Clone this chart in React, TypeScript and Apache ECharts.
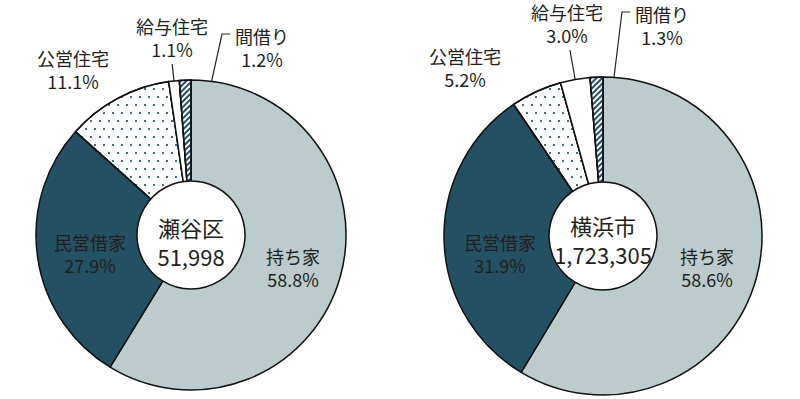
import React, { useEffect, useRef } from "react";
import * as echarts from "echarts";

const categories = ["持ち家", "民営借家", "公営住宅", "給与住宅", "間借り"];
const setagayaShares = [58.8, 27.9, 11.1, 1.1, 1.2];
const yokohamaShares = [58.6, 31.9, 5.2, 3.0, 1.3];
const regionNames = ["瀬谷区", "横浜市"];
const regionTotals = [51998, 1723305];

const FONT = "'Noto Sans CJK JP',sans-serif";
const TEXT = "#231f20";
const sliceColors = ["#bccbcc", "#235163", "#ffffff", "#ffffff", "#ffffff"];
const LINE_H = 23;

// layout (pixel positions of each pie and its label centres)
const pies = [
  { center: [191, 235], radius: 155, hole: 54, textShift: 6,
    labels: [[293, 267], [90, 253], [73, 69], [172, 37], [262, 47]] },
  { center: [603, 236], radius: 159, hole: 54, textShift: 3,
    labels: [[707, 267], [500, 253], [465, 67], [567, 23], [662, 25]] },
];

const dotDecal = {
  symbol: "rect",
  symbolSize: 1,
  color: "#3d6f88",
  dashArrayX: [[1.4, 6.6], [0, 4, 1.4, 2.6]],
  dashArrayY: [1.4, 5.6],
  rotation: 0,
};
const hatchDecal = {
  symbol: "rect",
  symbolSize: 1,
  color: "#235066",
  dashArrayX: [1, 0],
  dashArrayY: [1.6, 1.8],
  rotation: -Math.PI / 4,
};

function midAngle(values: number[], idx: number) {
  const total = values.reduce((a, b) => a + b, 0);
  let before = 0;
  for (let i = 0; i < idx; i++) before += values[i];
  const frac = (before + values[idx] / 2) / total;
  return frac * Math.PI * 2; // clockwise from top
}

function buildSeries(values: number[], k: number) {
  const p = pies[k];
  const [cx, cy] = p.center;
  const pt = (ang: number, rho: number) => [cx + rho * Math.sin(ang), cy - rho * Math.cos(ang)];
  const data = categories.map((name, i) => ({
    name,
    value: values[i],
    itemStyle: {
      color: sliceColors[i],
      ...(i === 2 ? { decal: dotDecal } : {}),
      ...(i === 4 ? { decal: hatchDecal } : {}),
    },
    labelLine: { show: i >= 3 },
  }));
  const main = {
    type: "pie",
    center: p.center,
    radius: [0, p.radius],
    startAngle: 90,
    clockwise: true,
    silent: true,
    z: 2,
    itemStyle: { borderColor: "#111", borderWidth: 1.5 },
    label: {
      show: true,
      position: "outside",
      overflow: "none",
      formatter: (q: any) => `${q.name}\n${Number(q.value).toFixed(1)}%`,
      fontFamily: FONT,
      fontSize: 18,
      lineHeight: LINE_H,
      color: TEXT,
      align: "center",
    },
    labelLine: { show: true, lineStyle: { color: "#222", width: 1.2 }, length: 5, length2: 5 },
    labelLayout: (params: any) => {
      const i = params.dataIndex;
      const [lx, ly] = p.labels[i];
      const h = LINE_H * 2;
      const res: any = { x: lx, y: ly - h / 2, align: "center", verticalAlign: "top" };
      const nameW = categories[i].length * 18;
      const ang = midAngle(values, i);
      if (i === 3) {
        const start = pt(ang, p.hole - 2);
        const endY = ly + h / 2 + 4;
        const rho = (cy - endY) / Math.cos(ang);
        res.labelLinePoints = [start, pt(ang, (rho + p.hole) / 2), pt(ang, rho)];
      } else if (i === 4) {
        const start = pt(ang, p.hole - 2);
        const left = lx - nameW / 2;
        const yLine = ly - h / 2 + 10;
        res.labelLinePoints = [start, [left - 13, yLine], [left - 5, yLine]];
      }
      return res;
    },
    data,
  };
  const centerSeries = {
    type: "pie",
    center: p.center,
    radius: [0, p.hole],
    silent: true,
    z: 5,
    itemStyle: { color: "#fff", borderColor: "#111", borderWidth: 1.5 },
    label: {
      show: true,
      position: "center",
      offset: [0, p.textShift],
      formatter: (q: any) => `${q.name}\n${regionTotals[k].toLocaleString("en-US")}`,
      fontFamily: FONT,
      fontSize: 22,
      lineHeight: 29,
      color: TEXT,
    },
    labelLine: { show: false },
    data: [{ name: regionNames[k], value: 1 }],
  };
  return [main, centerSeries];
}

export default function App() {
  const ref = useRef<HTMLDivElement>(null);
  useEffect(() => {
    if (!ref.current) return;
    const chart = echarts.init(ref.current, null, { renderer: "svg" });
    chart.setOption({
      animation: false,
      backgroundColor: "#ffffff",
      series: [...buildSeries(setagayaShares, 0), ...buildSeries(yokohamaShares, 1)],
    });
    return () => chart.dispose();
  }, []);
  return (
    <div
      ref={ref}
      style={{ position: "absolute", left: 0, top: 0, width: 800, height: 399 }}
    />
  );
}
